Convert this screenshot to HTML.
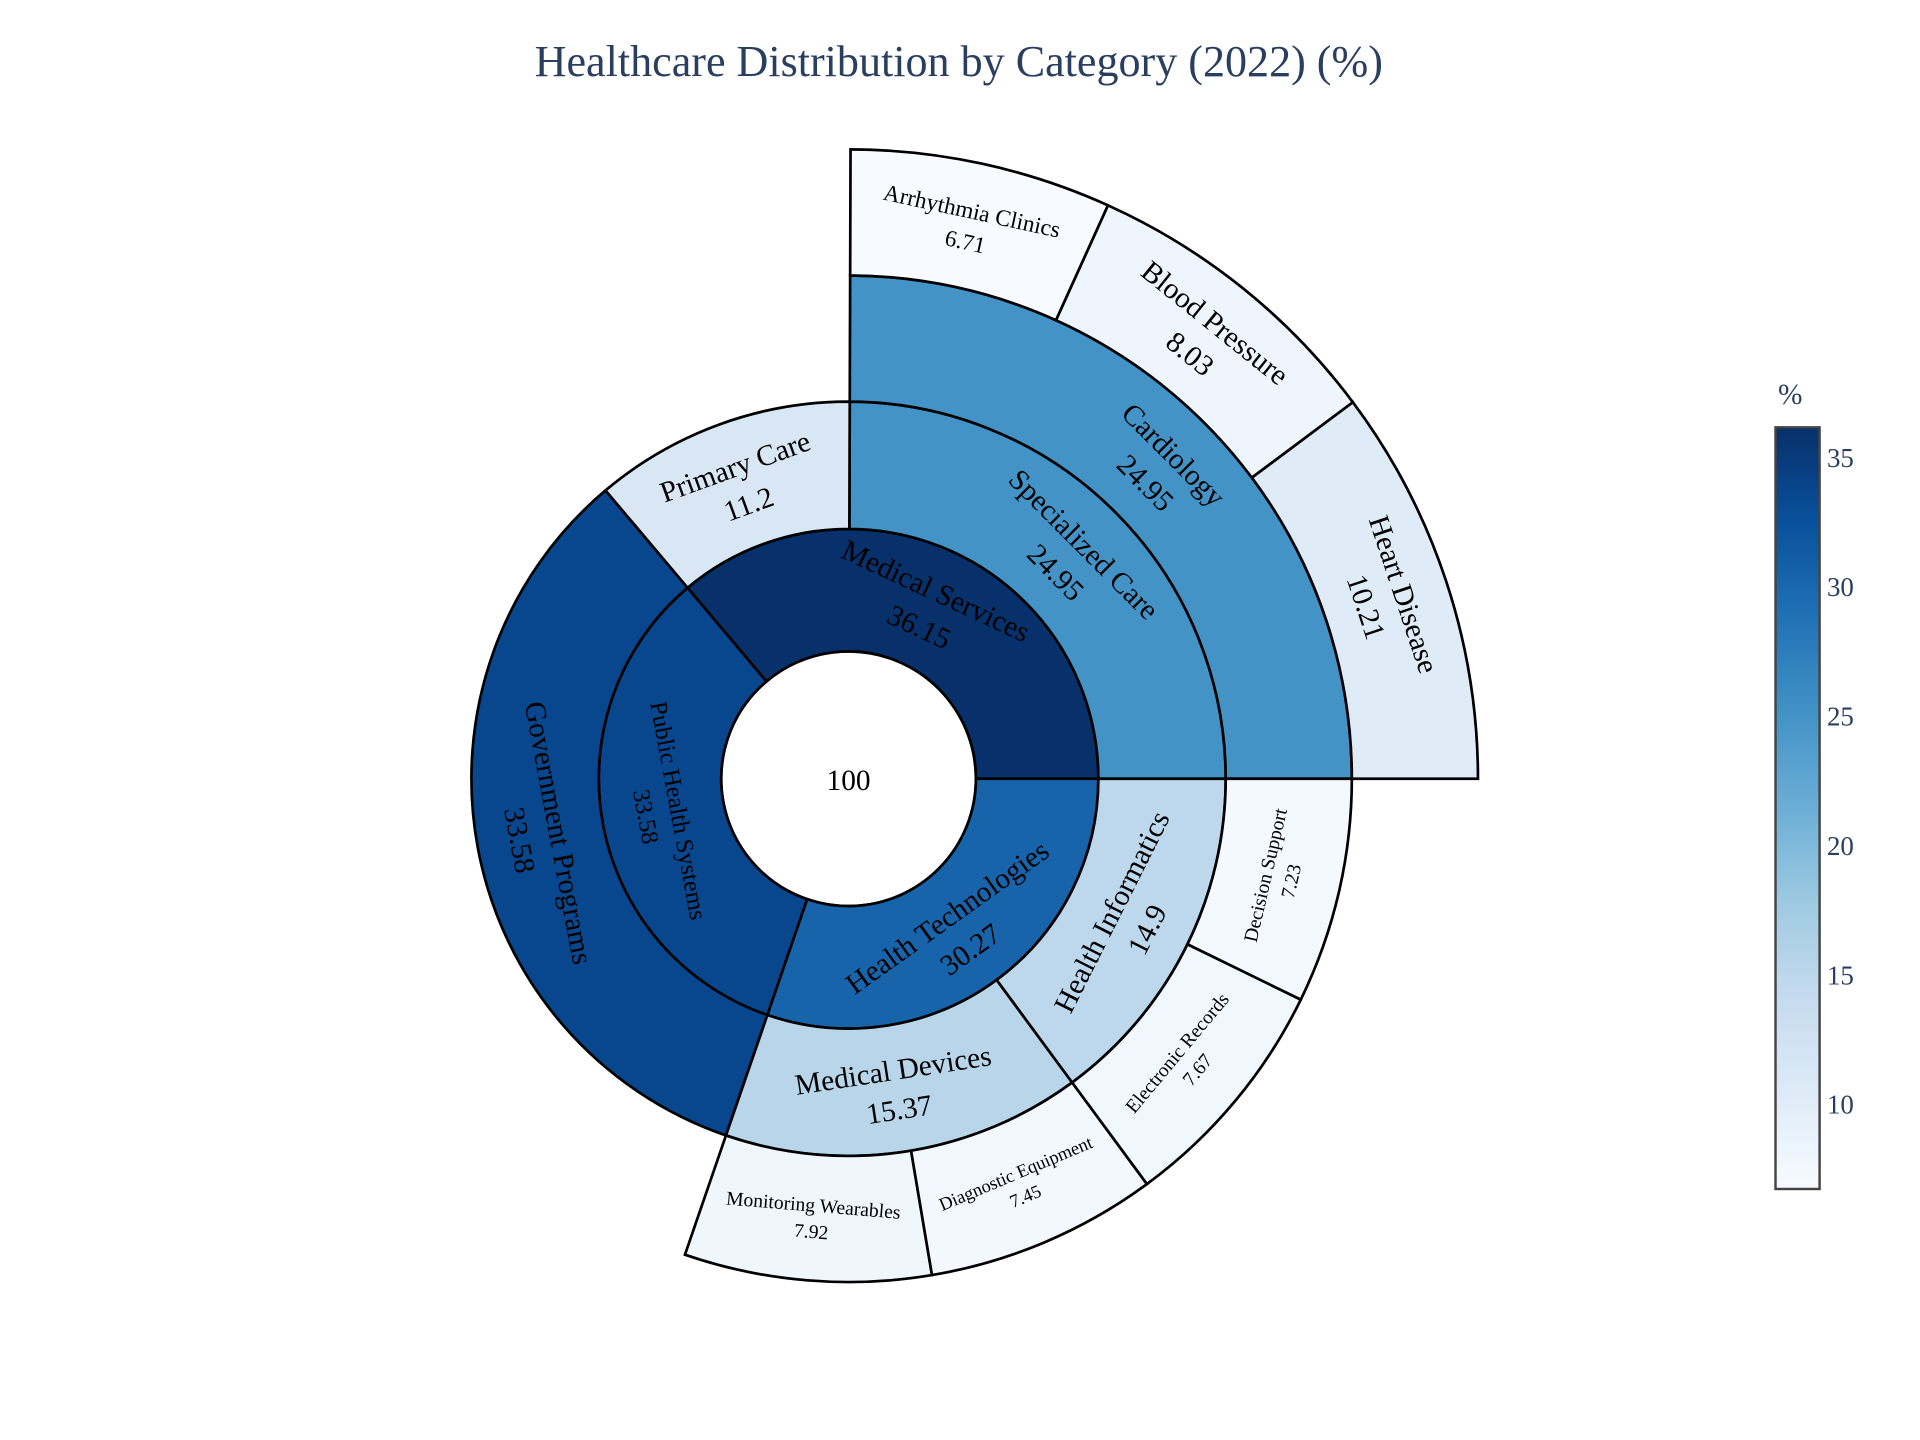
<!DOCTYPE html>
<html><head><meta charset="utf-8"><style>
html,body{margin:0;padding:0;background:#fff;}
svg{display:block;font-family:"Liberation Serif",serif;}
</style></head><body>
<svg id="chart" width="1920" height="1440" viewBox="0 0 1568 1176" xmlns="http://www.w3.org/2000/svg">
<text x="783" y="62" text-anchor="middle" font-size="36" fill="#2a3f5f">Healthcare Distribution by Category (2022) (%)</text>
<g id="rings"></g>
<g id="colorbar"></g>
</svg>
<script>
const labels = ["Medical Services","Public Health Systems","Health Technologies","Specialized Care","Primary Care","Government Programs","Medical Devices","Health Informatics","Cardiology","Monitoring Wearables","Diagnostic Equipment","Electronic Records","Decision Support","Heart Disease","Blood Pressure","Arrhythmia Clinics"];
const parents = ["","","","Medical Services","Medical Services","Public Health Systems","Health Technologies","Health Technologies","Specialized Care","Medical Devices","Medical Devices","Health Informatics","Health Informatics","Cardiology","Cardiology","Cardiology"];
const values = [36.15,33.58,30.27,24.95,11.2,33.58,15.37,14.9,24.95,7.92,7.45,7.67,7.23,10.21,8.03,6.71];
const fontSizes = [24,20,24,24,24,24,24,24,24,16,15,16,16,24,24,19];
const cbTicks = [10,15,20,25,30,35];

const NS="http://www.w3.org/2000/svg";
const cx=693, cy=636, radii=[104,204,308,411,514];
const cmin=6.71, cmax=36.15;
const blues=[[0,[247,251,255]],[0.125,[222,235,247]],[0.25,[198,219,239]],[0.375,[158,202,225]],[0.5,[107,174,214]],[0.625,[66,146,198]],[0.75,[33,113,181]],[0.875,[8,81,156]],[1,[8,48,107]]];
function color(v){let t=Math.max(0,Math.min(1,(v-cmin)/(cmax-cmin)));for(let i=1;i<blues.length;i++){if(t<=blues[i][0]){const a=blues[i-1],b=blues[i];const f=(t-a[0])/(b[0]-a[0]);const c=a[1].map((x,k)=>Math.round(x+(b[1][k]-x)*f));return `rgb(${c})`;}}return "rgb(8,48,107)";}
function pt(r,a){const rad=a*Math.PI/180;return [cx+r*Math.cos(rad),cy-r*Math.sin(rad)];}
function arc(r0,r1,a0,a1){const p1=pt(r1,a0),p2=pt(r1,a1),p3=pt(r0,a1),p4=pt(r0,a0);const l=(a1-a0)>180?1:0;
return `M${p1}A${r1},${r1} 0 ${l} 0 ${p2}L${p3}A${r0},${r0} 0 ${l} 1 ${p4}Z`;}
const g=document.getElementById('rings');
const root=document.createElementNS(NS,'circle');
root.setAttribute('cx',cx);root.setAttribute('cy',cy);root.setAttribute('r',radii[0]);
root.setAttribute('fill','#fff');root.setAttribute('stroke','#000');root.setAttribute('stroke-width','2.2');


g.appendChild(root);
const rt=document.createElementNS(NS,'text');rt.setAttribute('x',cx);rt.setAttribute('y',cy+9);rt.setAttribute('text-anchor','middle');rt.setAttribute('font-size','24');rt.textContent='100';


g.appendChild(rt);
const start={}, depth={};
function layout(parent,a0,d){let a=a0;labels.forEach((l,i)=>{if(parents[i]===parent){const span=values[i]/100*360;start[i]=[a,a+span];depth[i]=d;layout(l,a,d+1);a+=span;}});}
layout("",0,1);
const textG=document.createElementNS(NS,'g');
labels.forEach((l,i)=>{
 const [a0,a1]=start[i],d=depth[i];
 const p=document.createElementNS(NS,'path');
 p.setAttribute('d',arc(radii[d-1],radii[d],a0,a1));
 p.setAttribute('fill',color(values[i]));p.setAttribute('stroke','#000');p.setAttribute('stroke-width','2.2');
 
 
 g.appendChild(p);
 const mid=(a0+a1)/2, rm=(radii[d-1]+radii[d])/2;
 let rot=90-mid; while(rot>90)rot-=180; while(rot<-90)rot+=180;
 const [x,y]=pt(rm,mid);
 const fs=fontSizes[i];
 const t=document.createElementNS(NS,'text');
 t.setAttribute('transform',`translate(${x},${y}) rotate(${rot})`);
 t.setAttribute('text-anchor','middle');t.setAttribute('font-size',fs);
 t.setAttribute('fill','#000');
 
 
 const s1=document.createElementNS(NS,'tspan');s1.setAttribute('x',0);s1.setAttribute('dy',-fs*0.3);s1.textContent=l;
 const s2=document.createElementNS(NS,'tspan');s2.setAttribute('x',0);s2.setAttribute('dy',fs*1.35);s2.textContent=values[i];
 t.appendChild(s1);t.appendChild(s2);textG.appendChild(t);
});
g.appendChild(textG);
const cb=document.getElementById('colorbar');
const x0=1450,w=36,yTop=349,yBot=971;
const defs=document.createElementNS(NS,'defs');
const lg=document.createElementNS(NS,'linearGradient');lg.setAttribute('id','cbg');lg.setAttribute('x1','0');lg.setAttribute('y1','1');lg.setAttribute('x2','0');lg.setAttribute('y2','0');
blues.forEach(([o,c])=>{const s=document.createElementNS(NS,'stop');s.setAttribute('offset',o);s.setAttribute('stop-color',`rgb(${c})`);lg.appendChild(s);});
defs.appendChild(lg);cb.appendChild(defs);
const rect=document.createElementNS(NS,'rect');rect.setAttribute('x',x0);rect.setAttribute('y',yTop);rect.setAttribute('width',w);rect.setAttribute('height',yBot-yTop);
rect.setAttribute('fill','url(#cbg)');rect.setAttribute('stroke','#444');rect.setAttribute('stroke-width','2');


cb.appendChild(rect);
const ct=document.createElementNS(NS,'text');ct.setAttribute('x',1462);ct.setAttribute('y',330);ct.setAttribute('text-anchor','middle');ct.setAttribute('font-size','24');ct.setAttribute('fill','#2a3f5f');ct.textContent='%';


cb.appendChild(ct);
cbTicks.forEach(v=>{const y=yBot-(v-cmin)/(cmax-cmin)*(yBot-yTop);
 const tk=document.createElementNS(NS,'text');tk.setAttribute('x',x0+w+6);tk.setAttribute('y',y+8);tk.setAttribute('font-size','22');tk.setAttribute('fill','#2a3f5f');tk.textContent=v;
 
 
 cb.appendChild(tk);});
</script>
</body></html>
